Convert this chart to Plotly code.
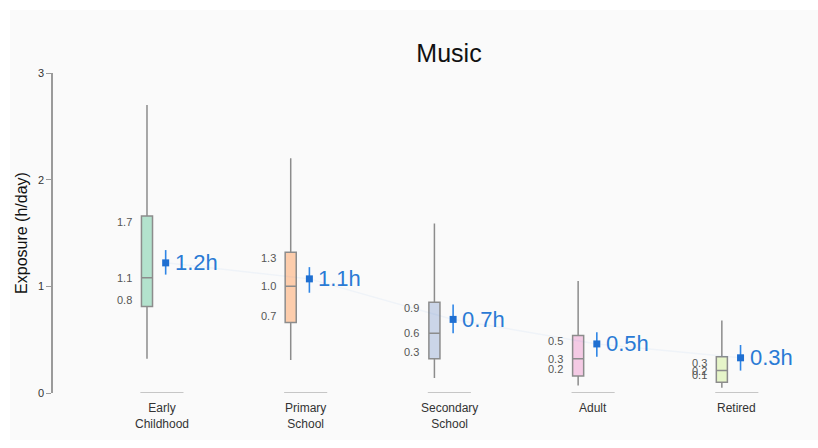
import plotly.graph_objects as go

categories = ["Early<br>Childhood", "Primary<br>School", "Secondary<br>School", "Adult", "Retired"]
q1 = [0.81, 0.66, 0.32, 0.16, 0.10]
median = [1.08, 1.00, 0.56, 0.32, 0.21]
q3 = [1.66, 1.32, 0.85, 0.54, 0.34]
lower_whisker = [0.32, 0.31, 0.14, 0.07, 0.05]
upper_whisker = [2.70, 2.20, 1.59, 1.05, 0.68]
mean = [1.22, 1.07, 0.69, 0.46, 0.33]
ci_low = [1.11, 0.94, 0.56, 0.34, 0.21]
ci_high = [1.34, 1.18, 0.83, 0.57, 0.45]
mean_labels = ["1.2h", "1.1h", "0.7h", "0.5h", "0.3h"]
q1_labels = ["0.8", "0.7", "0.3", "0.2", "0.1"]
median_labels = ["1.1", "1.0", "0.6", "0.3", "0.2"]
q3_labels = ["1.7", "1.3", "0.9", "0.5", "0.3"]
fill_colors = ["#b3e2cd", "#fdcdac", "#cbd5e8", "#f4cae4", "#e6f5c9"]

BOX_OFF = -0.104
MEAN_OFF = 0.026
xs = list(range(len(categories)))
FONT = "Liberation Sans, Arial"

fig = go.Figure()

# background panel
fig.add_shape(type="rect", xref="paper", yref="paper",
              x0=(10 - 53) / 765, x1=1.0, y0=(393 - 440) / 320, y1=(393 - 10) / 320,
              fillcolor="#fafafa", line=dict(width=0), layer="below")

# trend line through means
fig.add_trace(go.Scatter(x=[x + MEAN_OFF for x in xs], y=mean, mode="lines",
                         line=dict(color="rgba(60,130,220,0.06)", width=1.5),
                         hoverinfo="skip", showlegend=False))

# baselines under categories
for x in xs:
    fig.add_trace(go.Scatter(x=[x - 0.15, x + 0.15], y=[0, 0], mode="lines",
                             line=dict(color="#b5b5b5", width=1.5),
                             hoverinfo="skip", showlegend=False, cliponaxis=False))

for i, x in enumerate(xs):
    fig.add_trace(go.Box(
        x=[x + BOX_OFF], q1=[q1[i]], median=[median[i]], q3=[q3[i]],
        lowerfence=[lower_whisker[i]], upperfence=[upper_whisker[i]],
        width=0.077, whiskerwidth=0, fillcolor=fill_colors[i],
        line=dict(color="#8c8c8c", width=1.5), showlegend=False,
        boxpoints=False))

fig.add_trace(go.Scatter(
    x=[x + MEAN_OFF for x in xs], y=mean, mode="markers",
    marker=dict(symbol="square", size=7, color="#1f6fd1"),
    error_y=dict(type="data", symmetric=False,
                 array=[h - m for h, m in zip(ci_high, mean)],
                 arrayminus=[m - l for m, l in zip(mean, ci_low)],
                 color="#2f86e6", thickness=1.6, width=0),
    showlegend=False))

annotations = []
for i, x in enumerate(xs):
    annotations.append(dict(x=x + MEAN_OFF, y=mean[i], text=mean_labels[i], showarrow=False,
                            xanchor="left", yanchor="middle", xshift=7,
                            font=dict(family=FONT, size=22, color="#2a7ad5")))
    for val, lab, ys in [(q3[i], q3_labels[i], -6), (median[i], median_labels[i], 0), (q1[i], q1_labels[i], 7)]:
        annotations.append(dict(x=x + BOX_OFF, y=val, text=lab, showarrow=False,
                                xanchor="right", yanchor="middle", xshift=-13, yshift=ys,
                                font=dict(family=FONT, size=11, color="#555555")))
    annotations.append(dict(x=x, y=0, text=categories[i], showarrow=False,
                            xanchor="center", yanchor="top", yshift=-6,
                            font=dict(family=FONT, size=12, color="#333333")))

fig.update_layout(
    width=818, height=448,
    margin=dict(l=53, r=0, t=73, b=55),
    paper_bgcolor="white", plot_bgcolor="rgba(0,0,0,0)",
    title=dict(text="Music", x=449 / 818, xanchor="center", y=1 - 53 / 448, yanchor="middle",
               font=dict(family=FONT, size=25, color="#111111")),
    xaxis=dict(range=[-0.758, 4.565], showgrid=False, zeroline=False, showticklabels=False,
               showline=False, ticks=""),
    yaxis=dict(range=[0, 3], tickvals=[0, 1, 2, 3], showgrid=False, zeroline=False,
               showline=True, linecolor="#9a9a9a", linewidth=1.5, ticks="outside",
               ticklen=5, tickcolor="#9a9a9a",
               tickfont=dict(family=FONT, size=11, color="#333333"),
               title=dict(text="Exposure (h/day)", standoff=6,
                          font=dict(family=FONT, size=16, color="#111111"))),
    annotations=annotations,
)

fig.write_html("out.html")
